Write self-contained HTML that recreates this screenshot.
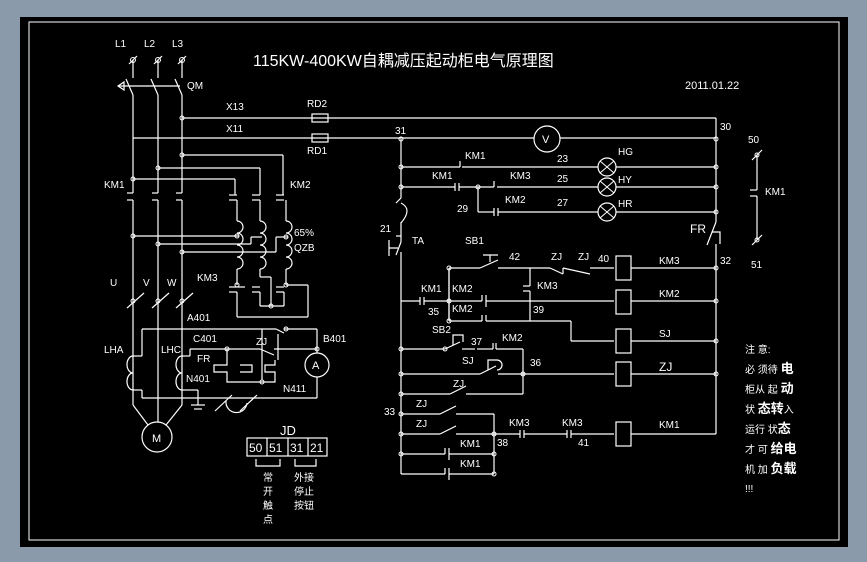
<!DOCTYPE html>
<html><head><meta charset="utf-8"><style>
html,body{margin:0;padding:0;background:#8b9aab;}
svg{display:block;}
text{font-family:"Liberation Sans","Noto Sans CJK SC",sans-serif;fill:#fff;font-size:10px;}
.cj{font-family:"Liberation Sans","Noto Sans CJK SC",sans-serif;}
</style></head><body>
<svg width="867" height="562" viewBox="0 0 867 562" xmlns="http://www.w3.org/2000/svg">
<rect x="0" y="0" width="867" height="562" fill="#8b9aab"/>
<rect x="20" y="17" width="828" height="530" fill="#000"/>
<rect x="29" y="22" width="810" height="518" fill="none" stroke="#fff" stroke-width="1"/>
<g stroke="#fff" stroke-width="1.2" fill="none">
<!-- mains -->
<line x1="133" y1="60" x2="133" y2="78"/><line x1="158" y1="60" x2="158" y2="78"/><line x1="182" y1="60" x2="182" y2="78"/>
<line x1="126" y1="79" x2="133" y2="95"/><line x1="151" y1="79" x2="158" y2="95"/><line x1="175" y1="79" x2="182" y2="95"/>
<line x1="118" y1="86" x2="180" y2="86"/><path d="M118 86 L124 82 L124 90 Z"/>
<line x1="133" y1="95" x2="133" y2="193"/><line x1="158" y1="95" x2="158" y2="193"/><line x1="182" y1="95" x2="182" y2="193"/>
<line x1="127" y1="193" x2="133" y2="193"/><line x1="152" y1="193" x2="158" y2="193"/><line x1="176" y1="193" x2="182" y2="193"/>
<line x1="127" y1="200" x2="133" y2="200"/><line x1="152" y1="200" x2="158" y2="200"/><line x1="176" y1="200" x2="182" y2="200"/>
<line x1="133" y1="200" x2="133" y2="405"/><line x1="158" y1="200" x2="158" y2="422"/><line x1="182" y1="200" x2="182" y2="405"/>
<line x1="133" y1="405" x2="148" y2="425"/><line x1="182" y1="405" x2="166" y2="425"/>
<circle cx="157" cy="437" r="15"/>
<!-- buses -->
<line x1="182" y1="118" x2="716" y2="118"/><rect x="312" y="114" width="16" height="8"/>
<line x1="133" y1="138" x2="534" y2="138"/><rect x="312" y="134" width="16" height="8"/>
<circle cx="547" cy="139" r="13"/><line x1="560" y1="138" x2="716" y2="138"/>
<!-- KM2 feed -->
<line x1="182" y1="155" x2="283" y2="155"/><line x1="283" y1="155" x2="283" y2="195"/>
<line x1="158" y1="168" x2="260" y2="168"/><line x1="260" y1="168" x2="260" y2="195"/>
<line x1="133" y1="179" x2="235" y2="179"/><line x1="235" y1="179" x2="235" y2="195"/>
<line x1="229" y1="195" x2="237" y2="195"/><line x1="252" y1="195" x2="260" y2="195"/><line x1="276" y1="195" x2="284" y2="195"/>
<line x1="229" y1="200" x2="237" y2="200"/><line x1="252" y1="200" x2="260" y2="200"/><line x1="276" y1="200" x2="284" y2="200"/>
<line x1="237" y1="200" x2="237" y2="221"/><line x1="260" y1="200" x2="260" y2="221"/><line x1="286" y1="200" x2="286" y2="221"/>
<path d="M237 221 a6 6 0 0 1 0 12 a6 6 0 0 1 0 12 a6 6 0 0 1 0 12 a6 6 0 0 1 0 12"/>
<path d="M260 221 a6 6 0 0 1 0 12 a6 6 0 0 1 0 12 a6 6 0 0 1 0 12 a6 6 0 0 1 0 12"/>
<path d="M286 221 a6 6 0 0 1 0 12 a6 6 0 0 1 0 12 a6 6 0 0 1 0 12 a6 6 0 0 1 0 12"/>
<line x1="133" y1="236" x2="239" y2="236"/>
<line x1="158" y1="244" x2="251" y2="244"/><line x1="251" y1="244" x2="251" y2="237"/><line x1="251" y1="237" x2="262" y2="237"/>
<line x1="182" y1="252" x2="276" y2="252"/><line x1="276" y1="252" x2="276" y2="237"/><line x1="276" y1="237" x2="288" y2="237"/>
<line x1="237" y1="269" x2="237" y2="285"/><line x1="260" y1="269" x2="260" y2="277"/><line x1="260" y1="277" x2="271" y2="277"/><line x1="271" y1="277" x2="271" y2="306"/>
<line x1="286" y1="269" x2="286" y2="285"/>
<line x1="229" y1="287" x2="245" y2="287"/><line x1="252" y1="287" x2="260" y2="287"/><line x1="276" y1="287" x2="284" y2="287"/>
<line x1="229" y1="292" x2="237" y2="292"/><line x1="252" y1="292" x2="260" y2="292"/><line x1="276" y1="292" x2="284" y2="292"/>
<line x1="237" y1="292" x2="237" y2="317"/><line x1="260" y1="292" x2="260" y2="306"/><line x1="284" y1="292" x2="284" y2="306"/>
<line x1="260" y1="306" x2="284" y2="306"/>
<line x1="237" y1="317" x2="308" y2="317"/><line x1="308" y1="317" x2="308" y2="285"/><line x1="308" y1="285" x2="286" y2="285"/>
<!-- slashes UVW -->
<line x1="127" y1="308" x2="144" y2="293"/><line x1="152" y1="308" x2="169" y2="293"/><line x1="176" y1="308" x2="193" y2="293"/>
<!-- CT area -->
<line x1="142" y1="329" x2="276" y2="329"/><line x1="276" y1="329" x2="284" y2="333"/><line x1="284" y1="329" x2="317" y2="329"/>
<line x1="317" y1="329" x2="317" y2="353"/><circle cx="317" cy="365" r="12"/><line x1="317" y1="377" x2="317" y2="398"/>
<line x1="142" y1="329" x2="142" y2="356"/><line x1="142" y1="356" x2="133" y2="356"/>
<path d="M133 356 a6 8.5 0 0 0 0 17 a6 8.5 0 0 0 0 17"/>
<line x1="133" y1="390" x2="142" y2="390"/><line x1="142" y1="390" x2="142" y2="398"/>
<line x1="142" y1="398" x2="317" y2="398"/>
<line x1="190" y1="349" x2="260" y2="349"/><line x1="260" y1="349" x2="274" y2="355"/><line x1="274" y1="349" x2="317" y2="349"/>
<line x1="190" y1="349" x2="190" y2="356"/><line x1="190" y1="356" x2="182" y2="356"/>
<path d="M182 356 a6 8.5 0 0 0 0 17 a6 8.5 0 0 0 0 17"/>
<line x1="182" y1="390" x2="198" y2="390"/><line x1="198" y1="390" x2="198" y2="405"/>
<line x1="191" y1="405" x2="205" y2="405"/><line x1="194" y1="409" x2="202" y2="409"/>
<line x1="262" y1="329" x2="262" y2="380"/><line x1="278" y1="334" x2="278" y2="360"/>
<path d="M227 349 V365 H214 V372 H227 V382 H275 V372 H265 V365 H275 V360"/>
<path d="M240 365 H252 V372 H240"/>
<line x1="215" y1="411" x2="232" y2="395"/><line x1="240" y1="411" x2="257" y2="395"/>
<path d="M226 401 a9 9 0 0 0 21 2"/>
<!-- JD -->
<rect x="247" y="438" width="80" height="18"/>
<line x1="267" y1="438" x2="267" y2="456"/><line x1="288" y1="438" x2="288" y2="456"/><line x1="308" y1="438" x2="308" y2="456"/>
<path d="M256 459 V466 H280 V459"/><path d="M295 459 V466 H316 V459"/>
<!-- control rails -->
<line x1="401" y1="139" x2="401" y2="198"/>
<path d="M401 198 L396 203 M401 203 q12 6 0 20 M401 222 V236"/>
<line x1="396" y1="236" x2="401" y2="236"/><line x1="401" y1="236" x2="401" y2="242"/>
<path d="M401 242 L396 255 M389 240 V256 M389 248 H398"/>
<line x1="401" y1="252" x2="401" y2="474"/>
<line x1="716" y1="118" x2="716" y2="222"/><path d="M716 222 L707 245 M712 232 h8 v12"/><line x1="716" y1="244" x2="716" y2="434"/>
<!-- lamp rows -->
<line x1="401" y1="167" x2="460" y2="167"/><line x1="460" y1="161" x2="460" y2="167"/><line x1="462" y1="167" x2="598" y2="167"/><circle cx="607" cy="167" r="9"/><line x1="616" y1="167" x2="716" y2="167"/>
<line x1="401" y1="187" x2="455" y2="187"/><line x1="455" y1="183" x2="455" y2="191"/><line x1="459" y1="183" x2="459" y2="191"/><line x1="459" y1="187" x2="494" y2="187"/><line x1="494" y1="181" x2="494" y2="187"/><line x1="497" y1="187" x2="598" y2="187"/><circle cx="607" cy="187" r="9"/><line x1="616" y1="187" x2="716" y2="187"/>
<line x1="478" y1="187" x2="478" y2="212"/><line x1="478" y1="212" x2="494" y2="212"/><line x1="494" y1="208" x2="494" y2="216"/><line x1="498" y1="208" x2="498" y2="216"/><line x1="498" y1="212" x2="598" y2="212"/><circle cx="607" cy="212" r="9"/><line x1="616" y1="212" x2="716" y2="212"/>
<!-- KM3 row -->
<line x1="449" y1="268" x2="480" y2="268"/><path d="M483 255 H498 M490 255 V262 M480 268 L498 260"/><line x1="498" y1="268" x2="550" y2="268"/>
<path d="M550 268 L563 274 M563 268 V274 M563 268 L590 274 M590 268 H614"/>
<rect x="616" y="256" width="15" height="24"/><line x1="631" y1="268" x2="716" y2="268"/>
<line x1="449" y1="268" x2="449" y2="321"/>
<line x1="530" y1="268" x2="530" y2="286"/><line x1="523" y1="286" x2="530" y2="286"/><line x1="523" y1="291" x2="530" y2="291"/><line x1="530" y1="291" x2="530" y2="321"/>
<!-- KM2 row -->
<line x1="401" y1="301" x2="420" y2="301"/><line x1="420" y1="297" x2="420" y2="305"/><line x1="424" y1="297" x2="424" y2="305"/><line x1="424" y1="301" x2="482" y2="301"/><line x1="482" y1="295" x2="482" y2="301"/><line x1="486" y1="295" x2="486" y2="307"/><line x1="486" y1="301" x2="614" y2="301"/>
<rect x="616" y="290" width="15" height="24"/><line x1="631" y1="301" x2="716" y2="301"/>
<line x1="449" y1="268" x2="449" y2="321"/><line x1="449" y1="321" x2="482" y2="321"/><line x1="482" y1="315" x2="482" y2="321"/><line x1="486" y1="315" x2="486" y2="321"/><line x1="486" y1="321" x2="571" y2="321"/><line x1="571" y1="321" x2="571" y2="341"/><line x1="571" y1="341" x2="614" y2="341"/>
<rect x="616" y="329" width="15" height="24"/><line x1="631" y1="341" x2="716" y2="341"/>
<!-- SB2 / ZJ rows -->
<line x1="401" y1="349" x2="445" y2="349"/><path d="M445 349 L460 342 M453 345 V335 H463 V342"/><line x1="462" y1="349" x2="475" y2="349"/><line x1="477" y1="349" x2="493" y2="349"/><line x1="493" y1="343" x2="493" y2="349"/><line x1="496" y1="343" x2="496" y2="349"/><line x1="496" y1="349" x2="523" y2="349"/><line x1="523" y1="349" x2="523" y2="394"/>
<line x1="401" y1="374" x2="480" y2="374"/><path d="M480 374 L496 366 M488 370 V360 H497 M497 360 a5 5 0 0 1 0 10"/><line x1="498" y1="374" x2="614" y2="374"/>
<rect x="616" y="362" width="15" height="24"/><line x1="631" y1="374" x2="716" y2="374"/>
<line x1="401" y1="394" x2="450" y2="394"/><line x1="450" y1="394" x2="466" y2="386"/><line x1="466" y1="394" x2="523" y2="394"/>
<!-- KM1 rows -->
<line x1="401" y1="414" x2="440" y2="414"/><line x1="440" y1="414" x2="456" y2="406"/><line x1="456" y1="414" x2="494" y2="414"/><line x1="494" y1="414" x2="494" y2="474"/>
<line x1="401" y1="434" x2="440" y2="434"/><line x1="440" y1="434" x2="456" y2="426"/><line x1="456" y1="434" x2="520" y2="434"/>
<line x1="520" y1="430" x2="520" y2="438"/><line x1="524" y1="430" x2="524" y2="438"/><line x1="524" y1="434" x2="567" y2="434"/><line x1="567" y1="430" x2="567" y2="438"/><line x1="571" y1="430" x2="571" y2="438"/><line x1="571" y1="434" x2="614" y2="434"/>
<rect x="616" y="422" width="15" height="24"/><line x1="631" y1="434" x2="716" y2="434"/>
<line x1="401" y1="454" x2="445" y2="454"/><line x1="445" y1="448" x2="445" y2="454"/><line x1="449" y1="448" x2="449" y2="460"/><line x1="449" y1="454" x2="494" y2="454"/>
<line x1="401" y1="474" x2="445" y2="474"/><line x1="445" y1="468" x2="445" y2="474"/><line x1="449" y1="468" x2="449" y2="480"/><line x1="449" y1="474" x2="494" y2="474"/>
<!-- right KM1 contact -->
<line x1="757" y1="155" x2="757" y2="190"/><line x1="750" y1="190" x2="757" y2="190"/><line x1="750" y1="196" x2="757" y2="196"/><line x1="757" y1="196" x2="757" y2="240"/>
<line x1="752" y1="160" x2="762" y2="150"/><line x1="752" y1="245" x2="762" y2="235"/>
<!-- L terminals -->
<line x1="129" y1="64" x2="137" y2="56"/><line x1="154" y1="64" x2="162" y2="56"/><line x1="178" y1="64" x2="186" y2="56"/>
</g>
<g fill="none" stroke="#fff" stroke-width="1">
<circle cx="133" cy="60" r="2.5"/><circle cx="158" cy="60" r="2.5"/><circle cx="182" cy="60" r="2.5"/>
<circle cx="182" cy="118" r="2"/><circle cx="182" cy="155" r="2"/><circle cx="158" cy="168" r="2"/><circle cx="133" cy="179" r="2"/>
<circle cx="133" cy="236" r="2"/><circle cx="158" cy="244" r="2"/><circle cx="182" cy="252" r="2"/><circle cx="237" cy="236" r="2"/><circle cx="286" cy="237" r="2"/>
<circle cx="237" cy="285" r="2"/><circle cx="286" cy="285" r="2"/><circle cx="271" cy="306" r="2"/>
<circle cx="133" cy="301" r="2"/><circle cx="158" cy="301" r="2"/><circle cx="182" cy="301" r="2"/>
<circle cx="227" cy="349" r="2"/><circle cx="317" cy="349" r="2"/><circle cx="262" cy="382" r="2"/><circle cx="286" cy="329" r="2"/>
<circle cx="401" cy="139" r="2"/><circle cx="401" cy="167" r="2"/><circle cx="401" cy="187" r="2"/><circle cx="478" cy="187" r="2"/>
<circle cx="716" cy="139" r="2"/><circle cx="716" cy="167" r="2"/><circle cx="716" cy="187" r="2"/><circle cx="716" cy="212" r="2"/><circle cx="716" cy="268" r="2"/><circle cx="716" cy="301" r="2"/><circle cx="716" cy="341" r="2"/><circle cx="716" cy="374" r="2"/>
<circle cx="449" cy="268" r="2"/><circle cx="449" cy="301" r="2"/><circle cx="449" cy="321" r="2"/>
<circle cx="401" cy="349" r="2"/><circle cx="401" cy="374" r="2"/><circle cx="401" cy="394" r="2"/><circle cx="401" cy="414" r="2"/><circle cx="401" cy="434" r="2"/><circle cx="401" cy="454" r="2"/><circle cx="523" cy="374" r="2"/>
<circle cx="494" cy="434" r="2"/><circle cx="494" cy="454" r="2"/><circle cx="494" cy="474" r="2"/><circle cx="445" cy="349" r="2"/>
<circle cx="757" cy="155" r="2"/><circle cx="757" cy="240" r="2"/>
</g>
<g stroke="#fff" stroke-width="1">
<line x1="600" y1="161" x2="614" y2="173"/><line x1="614" y1="161" x2="600" y2="173"/>
<line x1="600" y1="181" x2="614" y2="193"/><line x1="614" y1="181" x2="600" y2="193"/>
<line x1="600" y1="206" x2="614" y2="218"/><line x1="614" y1="206" x2="600" y2="218"/>
</g>
<text x="253" y="66" style="font-size:16px">115KW-400KW自耦减压起动柜电气原理图</text>
<text x="685" y="89" style="font-size:11px">2011.01.22</text>
<text x="115" y="47">L1</text><text x="144" y="47">L2</text><text x="172" y="47">L3</text>
<text x="187" y="89">QM</text>
<text x="226" y="110">X13</text><text x="226" y="132">X11</text>
<text x="307" y="107">RD2</text><text x="307" y="154">RD1</text>
<text x="104" y="188">KM1</text><text x="290" y="188">KM2</text>
<text x="294" y="236">65%</text><text x="294" y="251">QZB</text>
<text x="197" y="281">KM3</text>
<text x="110" y="286">U</text><text x="143" y="286">V</text><text x="167" y="286">W</text>
<text x="187" y="321">A401</text><text x="193" y="342">C401</text><text x="323" y="342">B401</text>
<text x="104" y="353">LHA</text><text x="161" y="353">LHC</text><text x="197" y="362">FR</text><text x="256" y="345">ZJ</text>
<text x="186" y="382">N401</text><text x="283" y="392">N411</text>
<text x="312" y="369" style="font-size:11px">A</text>
<text x="152" y="442" style="font-size:11px">M</text>
<text x="542" y="143" style="font-size:11px">V</text>
<text x="280" y="435" style="font-size:13px">JD</text>
<text x="249" y="452" style="font-size:12px">50</text><text x="269" y="452" style="font-size:12px">51</text><text x="290" y="452" style="font-size:12px">31</text><text x="310" y="452" style="font-size:12px">21</text>
<text x="263" y="481">常</text><text x="263" y="495">开</text><text x="263" y="509">触</text><text x="263" y="523">点</text>
<text x="294" y="481">外接</text><text x="294" y="495">停止</text><text x="294" y="509">按钮</text>
<text x="395" y="134">31</text><text x="720" y="130">30</text>
<text x="465" y="159">KM1</text><text x="432" y="179">KM1</text><text x="510" y="179">KM3</text><text x="505" y="203">KM2</text>
<text x="557" y="162">23</text><text x="557" y="182">25</text><text x="557" y="206">27</text>
<text x="618" y="155">HG</text><text x="618" y="183">HY</text><text x="618" y="207">HR</text>
<text x="457" y="212">29</text><text x="380" y="232">21</text><text x="412" y="244">TA</text>
<text x="690" y="233" style="font-size:12px">FR</text><text x="720" y="264">32</text>
<text x="465" y="244">SB1</text><text x="509" y="260">42</text><text x="551" y="260">ZJ</text><text x="578" y="260">ZJ</text><text x="598" y="262">40</text>
<text x="537" y="289">KM3</text><text x="421" y="292">KM1</text><text x="452" y="292">KM2</text><text x="452" y="312">KM2</text><text x="428" y="315">35</text><text x="533" y="313">39</text>
<text x="659" y="264">KM3</text><text x="659" y="297">KM2</text><text x="659" y="337">SJ</text><text x="659" y="371" style="font-size:12px">ZJ</text><text x="659" y="428">KM1</text>
<text x="432" y="333">SB2</text><text x="471" y="345">37</text><text x="502" y="341">KM2</text><text x="462" y="364">SJ</text><text x="530" y="366">36</text>
<text x="453" y="387">ZJ</text><text x="416" y="407">ZJ</text><text x="384" y="415">33</text><text x="416" y="427">ZJ</text>
<text x="509" y="426">KM3</text><text x="562" y="426">KM3</text><text x="497" y="446">38</text><text x="578" y="446">41</text>
<text x="460" y="447">KM1</text><text x="460" y="467">KM1</text>
<text x="748" y="143">50</text><text x="751" y="268">51</text><text x="765" y="195">KM1</text>
<g style="font-size:11px">
<text x="745" y="353">注 意:</text>
<text x="745" y="373">必 须待 <tspan style="font-size:13px;font-weight:bold">电</tspan></text>
<text x="745" y="393">柜从 起 <tspan style="font-size:13px;font-weight:bold">动</tspan></text>
<text x="745" y="413">状 <tspan style="font-size:13px;font-weight:bold">态转</tspan>入</text>
<text x="745" y="433">运行 状<tspan style="font-size:13px;font-weight:bold">态</tspan></text>
<text x="745" y="453">才 可 <tspan style="font-size:13px;font-weight:bold">给电</tspan></text>
<text x="745" y="473">机 加 <tspan style="font-size:13px;font-weight:bold">负载</tspan></text>
<text x="745" y="492">!!!</text>
</g>
</svg>
</body></html>
